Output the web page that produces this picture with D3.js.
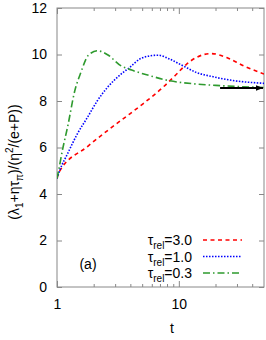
<!DOCTYPE html>
<html><head><meta charset="utf-8">
<script src="https://cdn.jsdelivr.net/npm/d3@7"></script>
<style>
html,body{margin:0;padding:0;background:#fff;}
text{font-family:"Liberation Sans",Arial,Helvetica,sans-serif;}
</style>
</head><body>
<svg id="c" width="266" height="340"></svg>
<script>
// ---- data ----
const tGreen = [1.0, 1.02, 1.12, 1.22, 1.40, 1.57, 1.81, 2.15, 2.60, 3.36, 4.1, 5.76, 8.43, 13.9, 21.8, 50];
const vGreen = [4.67, 4.89, 6.0, 6.87, 8.44, 9.23, 9.97, 10.16, 9.99, 9.51, 9.33, 9.09, 8.87, 8.73, 8.66, 8.58];
const tBlue = [1.0, 1.05, 1.22, 1.47, 1.78, 2.15, 2.60, 3.36, 3.94, 4.76, 5.76, 6.75, 8.43, 10.85, 13.9, 19.2, 26.3, 50];
const vBlue = [4.67, 5.0, 5.73, 6.59, 7.30, 8.02, 8.59, 9.16, 9.44, 9.80, 9.94, 9.97, 9.80, 9.51, 9.23, 9.04, 8.90, 8.76];
const tRed = [1.0, 1.04, 1.78, 2.60, 3.94, 5.05, 7.4, 9.6, 11.6, 13.9, 18.5, 24.7, 34, 50];
const vRed = [4.67, 4.94, 6.04, 6.73, 7.44, 7.87, 8.59, 9.16, 9.59, 9.87, 10.04, 9.87, 9.51, 9.16];
const legendLabels = ["3.0", "1.0", "0.3"];
const xMajor = [1, 10];
const xMinor = [2, 3, 4, 5, 6, 7, 8, 9, 20, 30, 40];
const yTicks = [0, 2, 4, 6, 8, 10, 12];
const arrowT = [21.8, 50];
const arrowV = 8.56;

// ---- layout ----
const L = 57, R = 264, T = 8, B = 287;
const svg = d3.select("#c");
const x = d3.scaleLog().domain([1, 50]).range([L, R]);
const y = d3.scaleLinear().domain([0, 12]).range([B, T]);
const gray = "#888";
const fs = 14;

// axes
function styleAxis(g) {
  g.select(".domain").remove();
  g.selectAll("line").attr("stroke", gray);
  g.selectAll("text").attr("fill", "#000").style("font-size", fs + "px")
   .style("font-family", "Liberation Sans, Arial, sans-serif");
}
svg.append("g").attr("transform", `translate(0,${B})`)
  .call(d3.axisBottom(x).tickValues(xMajor).tickSize(-6).tickPadding(12).tickFormat(d3.format("d")))
  .call(styleAxis);
svg.append("g").attr("transform", `translate(0,${B})`)
  .call(d3.axisBottom(x).tickValues(xMinor).tickSize(-3).tickFormat(""))
  .call(styleAxis);
svg.append("g").attr("transform", `translate(0,${T})`)
  .call(d3.axisTop(x).tickValues(xMajor).tickSize(-6).tickFormat(""))
  .call(styleAxis);
svg.append("g").attr("transform", `translate(0,${T})`)
  .call(d3.axisTop(x).tickValues(xMinor).tickSize(-3).tickFormat(""))
  .call(styleAxis);
svg.append("g").attr("transform", `translate(${L},0)`)
  .call(d3.axisLeft(y).tickValues(yTicks).tickSize(-5).tickPadding(10).tickFormat(d3.format("d")))
  .call(styleAxis);
svg.append("g").attr("transform", `translate(${R},0)`)
  .call(d3.axisRight(y).tickValues(yTicks).tickSize(-5).tickFormat(""))
  .call(styleAxis);

svg.append("rect").attr("x", L).attr("y", T).attr("width", R - L).attr("height", B - T)
  .attr("fill", "none").attr("stroke", gray).attr("stroke-width", 1);

// clip
svg.append("clipPath").attr("id", "clip").append("rect")
  .attr("x", L).attr("y", T).attr("width", R - L).attr("height", B - T);

const line = d3.line().x(d => x(d[0])).y(d => y(d[1])).curve(d3.curveMonotoneX);
const series = [
  {t: tRed, v: vRed, color: "#ff0000", dash: "4,3.5"},
  {t: tBlue, v: vBlue, color: "#0000ff", dash: "1.5,1.5"},
  {t: tGreen, v: vGreen, color: "#2e9a2e", dash: "7,3,1.5,3"}
];
const plot = svg.append("g").attr("clip-path", "url(#clip)");
series.forEach(s => {
  plot.append("path").datum(s.t.map((t, i) => [t, s.v[i]]))
    .attr("d", line).attr("fill", "none").attr("stroke", s.color)
    .attr("stroke-width", 1.6).attr("stroke-dasharray", s.dash);
});

// arrow
svg.append("defs").append("marker").attr("id", "ah").attr("viewBox", "0 0 10 10")
  .attr("refX", 10).attr("refY", 5).attr("markerWidth", 4).attr("markerHeight", 4)
  .attr("orient", "auto").attr("markerUnits", "strokeWidth")
  .append("path").attr("d", "M0,1 L10,5 L0,9 Z").attr("fill", "#000");
svg.append("line").attr("x1", x(arrowT[0])).attr("x2", x(arrowT[1]) - 1)
  .attr("y1", y(arrowV)).attr("y2", y(arrowV))
  .attr("stroke", "#000").attr("stroke-width", 1.8).attr("marker-end", "url(#ah)");

// legend
const lg = svg.append("g");
series.forEach((s, i) => {
  const yy = 240 + i * 16.5;
  const tx = lg.append("text").attr("x", 192).attr("y", yy + 5).attr("text-anchor", "end")
    .style("font-size", fs + "px").attr("fill", "#000");
  tx.append("tspan").text("τ");
  tx.append("tspan").attr("dy", 4).style("font-size", "10px").text("rel");
  tx.append("tspan").attr("dy", -4).text("=" + legendLabels[i]);
  lg.append("line").attr("x1", 203).attr("x2", 242).attr("y1", yy).attr("y2", yy)
    .attr("stroke", s.color).attr("stroke-width", 1.6).attr("stroke-dasharray", s.dash);
});

// (a)
svg.append("text").attr("x", 88).attr("y", 269).attr("text-anchor", "middle")
  .style("font-size", fs + "px").text("(a)");

// x label
svg.append("text").attr("x", 172).attr("y", 333).attr("text-anchor", "middle")
  .style("font-size", fs + "px").text("t");

// y label
const yl = svg.append("text").attr("transform", "translate(19,162) rotate(-90)")
  .attr("text-anchor", "middle").style("font-size", fs + "px").attr("fill", "#000");
yl.append("tspan").text("(λ");
yl.append("tspan").attr("dy", 4).style("font-size", "10px").text("1");
yl.append("tspan").attr("dy", -4).text("+ητ");
yl.append("tspan").attr("dy", 4).style("font-size", "10px").text("π");
yl.append("tspan").attr("dy", -4).text(")/(η");
yl.append("tspan").attr("dy", -6).style("font-size", "10px").text("2");
yl.append("tspan").attr("dy", 6).text("/(e+P))");
</script>
</body></html>
